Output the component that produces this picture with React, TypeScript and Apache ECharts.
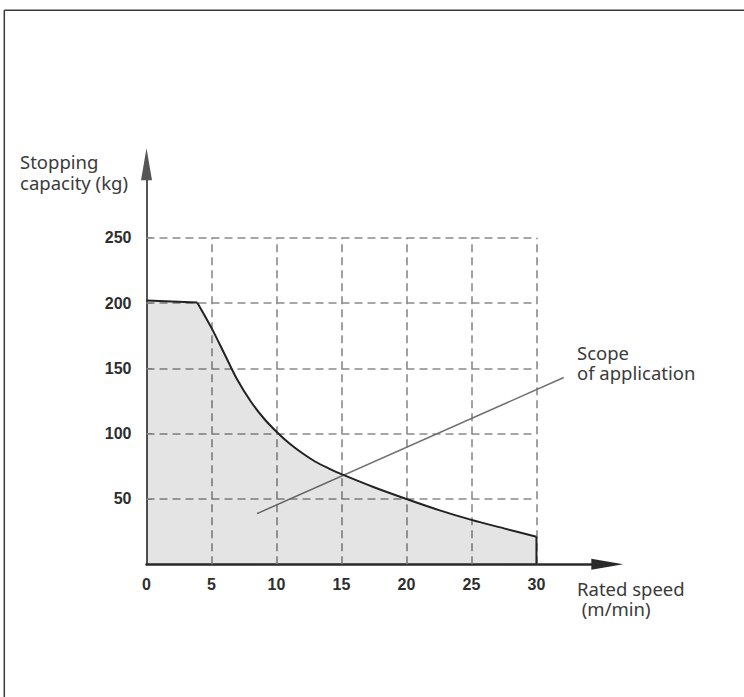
import React, { useEffect, useRef } from "react";
import * as echarts from "echarts";

// ---- data ----
const flatSpeed = [0, 3.9];
const flatCapacity = [202, 200.5];
const curveSpeed = [3.9, 5, 6, 7, 8, 9, 10, 11, 12, 13, 14, 15, 17.5, 20, 22.5, 25, 27.5, 30];
const curveCapacity = [200.5, 181, 161, 141, 125, 112, 101.5, 92.5, 85, 78.5, 73.5, 69, 59, 50, 41.5, 34, 27.5, 21.1];
const dropSpeed = [30, 30];
const dropCapacity = [21.1, 0];
const scopeSpeed = [8.5, 32.1];
const scopeCapacity = [38.8, 143];
const xTickLabels = [0, 5, 10, 15, 20, 25, 30];
const yTickLabels = [50, 100, 150, 200, 250];
const gridSpeedMax = 30;
const gridCapacityMax = 250;

const pairs = (xs: number[], ys: number[]) => xs.map((x, i) => [x, ys[i]]);

export default function App() {
  const ref = useRef<HTMLDivElement>(null);
  useEffect(() => {
    if (!ref.current) return;
    const chart = echarts.init(ref.current, undefined, { renderer: "svg" });

    const gridLines: any[] = [];
    xTickLabels
      .filter((v) => v > 0)
      .forEach((v) => gridLines.push([{ coord: [v, 0] }, { coord: [v, gridCapacityMax] }]));
    yTickLabels.forEach((v) => gridLines.push([{ coord: [0, v] }, { coord: [gridSpeedMax, v] }]));

    const textStyle = {
      fill: "#3a3a3a",
      fontFamily: "Noto Sans",
      fontSize: 18.5,
      lineHeight: 20.5,
    };
    const tickFont = {
      color: "#2e2e2e",
      fontFamily: "Liberation Sans",
      fontSize: 16,
      fontWeight: "bold" as const,
    };

    chart.setOption({
      animation: false,
      backgroundColor: "#ffffff",
      grid: { left: 146.5, top: 164.3, width: 460.8, height: 400, containLabel: false },
      xAxis: {
        type: "value",
        min: 0,
        max: 35.45,
        interval: 5,
        splitLine: { show: false },
        axisLine: {
          show: true,
          symbol: ["none", "triangle"],
          symbolSize: [11, 32],
          lineStyle: { color: "#2a2a2a", width: 2.5 },
        },
        axisTick: { show: false },
        axisLabel: { customValues: xTickLabels, margin: 12, ...tickFont },
      },
      yAxis: {
        type: "value",
        min: 0,
        max: 306.2,
        interval: 50,
        splitLine: { show: false },
        axisLine: {
          show: true,
          symbol: ["none", "triangle"],
          symbolSize: [11, 32],
          lineStyle: { color: "#555", width: 2 },
        },
        axisTick: {
          show: true,
          inside: true,
          length: 6,
          customValues: yTickLabels,
          lineStyle: { color: "#888", width: 1 },
        },
        axisLabel: { customValues: yTickLabels, margin: 15, ...tickFont },
      },
      series: [
        {
          type: "line",
          z: 2,
          data: pairs(scopeSpeed, scopeCapacity),
          symbol: "none",
          lineStyle: { color: "#707070", width: 1.5 },
          markLine: {
            z: 1,
            silent: true,
            symbol: ["none", "none"],
            label: { show: false },
            lineStyle: { color: "#8a8a8a", width: 1.6, type: [8, 5] },
            data: gridLines,
          },
        },
        {
          type: "line",
          z: 3,
          data: pairs(flatSpeed, flatCapacity),
          symbol: "none",
          lineStyle: { color: "#222", width: 2 },
          areaStyle: { color: "rgba(0,0,0,0.15)" },
        },
        {
          type: "line",
          z: 3,
          data: pairs(curveSpeed, curveCapacity),
          symbol: "none",
          smooth: 0.3,
          lineStyle: { color: "#222", width: 2 },
          areaStyle: { color: "rgba(0,0,0,0.15)" },
        },
        {
          type: "line",
          z: 3,
          data: pairs(dropSpeed, dropCapacity),
          symbol: "none",
          lineStyle: { color: "#222", width: 2 },
        },
      ],
      graphic: [
        {
          type: "line",
          shape: { x1: 4.3, y1: 10.3, x2: 744, y2: 10.3 },
          style: { stroke: "#3a3a3a", lineWidth: 1.5 },
        },
        {
          type: "line",
          shape: { x1: 4.3, y1: 10.3, x2: 4.3, y2: 697 },
          style: { stroke: "#3a3a3a", lineWidth: 1.5 },
        },
        {
          type: "text",
          left: 20,
          top: 151.5,
          style: { ...textStyle, text: "Stopping\ncapacity (kg)" },
        },
        {
          type: "text",
          left: 577,
          top: 342,
          style: { ...textStyle, text: "Scope\nof application" },
        },
        {
          type: "text",
          left: 577,
          top: 578,
          style: { ...textStyle, text: "Rated speed\n (m/min)" },
        },
      ],
    });
    return () => chart.dispose();
  }, []);
  return (
    <div
      ref={ref}
      style={{ position: "absolute", left: 0, top: 0, width: 744, height: 697 }}
    />
  );
}
